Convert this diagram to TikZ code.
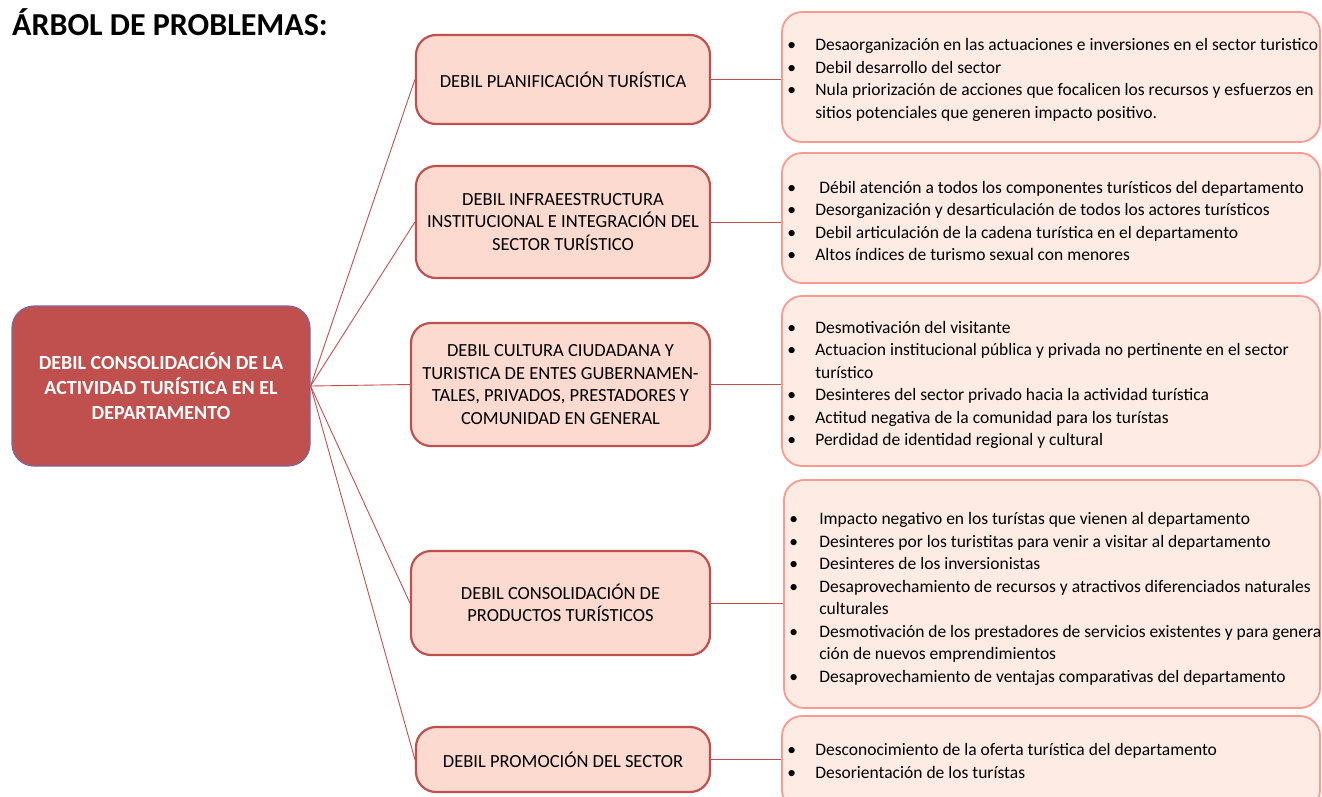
\documentclass[tikz,border=0pt]{standalone}
\usepackage{fontspec}
\setmainfont{Carlito}
\usetikzlibrary{positioning}

\definecolor{rootred}{HTML}{C0504D}
\definecolor{rootline}{HTML}{8064A2}
\definecolor{causefill}{HTML}{FCDAD0}
\definecolor{effectfill}{HTML}{FDEBE4}
\definecolor{effectline}{HTML}{FA9A90}

\newcommand\bl{\makebox[28pt][l]{\textbullet}}
\newcommand\hg{\hspace*{28pt}}

\tikzset{
  root/.style={draw=rootline, line width=1.2pt, fill=rootred, rounded corners=22pt,
    minimum width=298pt, minimum height=160pt, align=center, text=white,
    font=\bfseries\fontsize{20}{25}\selectfont},
  cause/.style={draw=rootred, line width=2.2pt, fill=causefill, rounded corners=20pt,
    align=center, font=\fontsize{18.5}{22.5}\selectfont},
  effect/.style={draw=effectline, line width=1.8pt, fill=effectfill, rounded corners=20pt,
    minimum width=538pt},
  list/.style={align=left, inner sep=0pt, font=\fontsize{17.5}{22.5}\selectfont},
  link/.style={draw=rootred, line width=0.9pt}
}

\begin{document}
\begin{tikzpicture}[x=1pt,y=-1pt]
  \clip (0,0) rectangle (1322,796);
  \useasboundingbox (0,0) rectangle (1322,796);

  % title
  \node[anchor=west, inner sep=0pt, font=\bfseries\fontsize{32}{36}\selectfont] (title) at (12,22) {ÁRBOL DE PROBLEMAS:};

  % central problem
  \node[root] (root) at (161,386) {DEBIL CONSOLIDACIÓN DE LA\\ACTIVIDAD TURÍSTICA EN EL\\DEPARTAMENTO};

  % causes
  \node[cause, minimum width=294pt, minimum height=89pt] (m1) at (563,79.5) {DEBIL PLANIFICACIÓN TURÍSTICA};
  \node[cause, minimum width=294pt, minimum height=112pt] (m2) at (563,222) {DEBIL INFRAEESTRUCTURA\\INSTITUCIONAL E INTEGRACIÓN DEL\\SECTOR TURÍSTICO};
  \node[cause, minimum width=299pt, minimum height=123pt] (m3) at (560.5,384.5) {DEBIL CULTURA CIUDADANA Y\\TURISTICA DE ENTES GUBERNAMEN-\\TALES, PRIVADOS, PRESTADORES Y\\COMUNIDAD EN GENERAL};
  \node[cause, minimum width=299pt, minimum height=104pt] (m4) at (560.5,603) {DEBIL CONSOLIDACIÓN DE\\PRODUCTOS TURÍSTICOS};
  \node[cause, minimum width=294pt, minimum height=65pt] (m5) at (563,759.5) {DEBIL PROMOCIÓN DEL SECTOR};

  % effects
  \node[effect, minimum height=130pt] (r1) at (1051,77) {};
  \node[effect, minimum height=130pt] (r2) at (1051,218) {};
  \node[effect, minimum height=170pt] (r3) at (1051,381) {};
  \node[effect, minimum width=536pt, minimum height=228pt] (r4) at (1052,594) {};
  \node[effect, minimum height=94pt] (r5) at (1051,763) {};

  \node[list, right=6pt of r1.west, yshift=-3pt] (l1) {\bl Desaorganización en las actuaciones e inversiones en el sector turistico\\
    \bl Debil desarrollo del sector\\
    \bl Nula priorización de acciones que focalicen los recursos y esfuerzos en\\
    \hg sitios potenciales que generen impacto positivo.};
  \node[list, right=6pt of r2.west, yshift=-3pt] (l2) {\bl\hspace{4pt}Débil atención a todos los componentes turísticos del departamento\\
    \bl Desorganización y desarticulación de todos los actores turísticos\\
    \bl Debil articulación de la cadena turística en el departamento\\
    \bl Altos índices de turismo sexual con menores};
  \node[list, right=6pt of r3.west, yshift=-4pt] (l3) {\bl Desmotivación del visitante\\
    \bl Actuacion institucional pública y privada no pertinente en el sector\\
    \hg turístico\\
    \bl Desinteres del sector privado hacia la actividad turística\\
    \bl Actitud negativa de la comunidad para los turístas\\
    \bl Perdidad de identidad regional y cultural};
  \node[list, right=6pt of r4.west, yshift=-5pt] (l4) {\bl\hspace{2pt}Impacto negativo en los turístas que vienen al departamento\\
    \bl\hspace{2pt}Desinteres por los turistitas para venir a visitar al departamento\\
    \bl\hspace{2pt}Desinteres de los inversionistas\\
    \bl\hspace{2pt}Desaprovechamiento de recursos y atractivos diferenciados naturales\\
    \hg\hspace{2pt}culturales\\
    \bl\hspace{2pt}Desmotivación de los prestadores de servicios existentes y para genera\\
    \hg\hspace{2pt}ción de nuevos emprendimientos\\
    \bl\hspace{2pt}Desaprovechamiento de ventajas comparativas del departamento};
  \node[list, right=6pt of r5.west, yshift=2pt] (l5) {\bl Desconocimiento de la oferta turística del departamento\\
    \bl Desorientación de los turístas};

  % connectors
  \foreach \m in {m1,m2,m3,m4,m5}
    \draw[link] (root.east) -- (\m.west);
  \foreach \m/\r in {m1/r1,m2/r2,m3/r3,m4/r4,m5/r5}
    \draw[link] (\m.east) -- (\m.east -| \r.west);
\end{tikzpicture}
\end{document}
